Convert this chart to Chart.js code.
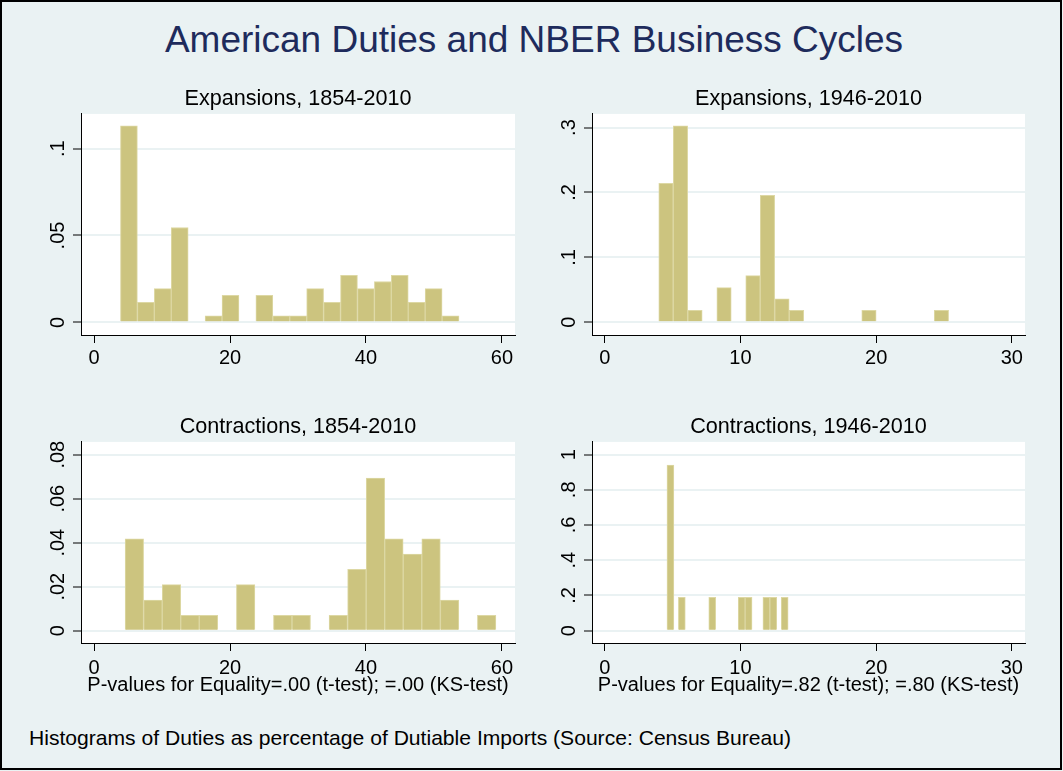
<!DOCTYPE html>
<html>
<head>
<meta charset="utf-8">
<title>American Duties and NBER Business Cycles</title>
<script src="https://cdn.jsdelivr.net/npm/chart.js@4.4.1/dist/chart.umd.min.js"></script>
<style>
  html, body { margin: 0; padding: 0; background: #EAF2F3; }
  body { width: 1063px; height: 771px; position: relative; font-family: "Liberation Sans", Arial, sans-serif; }
  #frame { position: absolute; left: 0; top: 0; width: 1062px; height: 770px; box-sizing: border-box; border: 2px solid #000; }
  #mainTitle { position: absolute; left: 0; top: 21px; width: 1068px; text-align: center; font-size: 37px; line-height: 37px; color: #1e2b5c; white-space: nowrap; }
  #note { position: absolute; left: 29px; top: 725px; font-size: 21.1px; line-height: 25px; color: #000; white-space: nowrap; }
  canvas { position: absolute; }
</style>
</head>
<body>
<div id="frame"></div>
<div id="mainTitle">American Duties and NBER Business Cycles</div>
<canvas id="exp1854" width="510" height="289" style="left:20px;top:86px"></canvas>
<canvas id="exp1946" width="510" height="289" style="left:530px;top:86px"></canvas>
<canvas id="con1854" width="510" height="283" style="left:20px;top:414px"></canvas>
<canvas id="con1946" width="510" height="283" style="left:530px;top:414px"></canvas>
<div id="note">Histograms of Duties as percentage of Dutiable Imports (Source: Census Bureau)</div>

<script>
// Expansions, 1854-2010 : bin centres (duty %) and density
const exp1854Bins = [5.13, 7.62, 10.11, 12.60, 15.09, 17.58, 20.07, 22.56, 25.05, 27.54,
                     30.03, 32.52, 35.01, 37.50, 39.99, 42.48, 44.97, 47.46, 49.95, 52.44];
const exp1854Density = [0.1132, 0.0115, 0.0194, 0.0546, 0, 0.0038, 0.0156, 0, 0.0156, 0.0038,
                        0.0038, 0.0194, 0.0115, 0.0271, 0.0194, 0.0235, 0.0271, 0.0115, 0.0194, 0.0038];

// Expansions, 1946-2010
const exp1946Bins = [4.51, 5.58, 6.65, 7.72, 8.79, 9.85, 10.92, 11.99, 13.06, 14.13,
                     15.19, 16.26, 17.33, 18.40, 19.47, 20.54, 21.60, 22.67, 23.74, 24.81];
const exp1946Density = [0.214, 0.3025, 0.0185, 0, 0.0534, 0, 0.0719, 0.1957, 0.036, 0.0185,
                        0, 0, 0, 0, 0.0185, 0, 0, 0, 0, 0.0185];

// Contractions, 1854-2010
const con1854Bins = [5.93, 8.66, 11.39, 14.11, 16.84, 19.57, 22.30, 25.02, 27.75, 30.48,
                     33.20, 35.93, 38.66, 41.39, 44.11, 46.84, 49.57, 52.30, 55.02, 57.75];
const con1854Density = [0.0418, 0.0139, 0.0209, 0.0070, 0.0070, 0, 0.0209, 0, 0.0070, 0.0070,
                        0, 0.0070, 0.0279, 0.0694, 0.0418, 0.0348, 0.0418, 0.0139, 0, 0.0070];

// Contractions, 1946-2010
const con1946Bins = [4.84, 5.68, 7.92, 10.09, 10.60, 11.91, 12.42, 13.26];
const con1946Density = [0.94, 0.19, 0.19, 0.19, 0.19, 0.19, 0.19, 0.19];

// tick values and labels
const xTicksLong = [0, 20, 40, 60];
const xTicksShort = [0, 10, 20, 30];
const yTicksExp1854 = [0, 0.05, 0.1];
const yLabelsExp1854 = ['0', '.05', '.1'];
const yTicksExp1946 = [0, 0.1, 0.2, 0.3];
const yLabelsExp1946 = ['0', '.1', '.2', '.3'];
const yTicksCon1854 = [0, 0.02, 0.04, 0.06, 0.08];
const yLabelsCon1854 = ['0', '.02', '.04', '.06', '.08'];
const yTicksCon1946 = [0, 0.2, 0.4, 0.6, 0.8, 1];
const yLabelsCon1946 = ['0', '.2', '.4', '.6', '.8', '1'];

const FONT = '"Liberation Sans", Arial, sans-serif';
Chart.defaults.font.family = FONT;
Chart.defaults.font.size = 20;
Chart.defaults.color = '#000';

// white plot region, like Stata's s2color scheme
const plotBg = {
    id: 'plotBg',
    beforeDraw(chart) {
        const a = chart.chartArea;
        const ctx = chart.ctx;
        ctx.save();
        ctx.fillStyle = '#ffffff';
        ctx.fillRect(a.left, a.top, a.right - a.left, a.bottom - a.top);
        ctx.restore();
    }
};

// vertical y tick labels (reading bottom to top)
const yLabels = {
    id: 'yLabels',
    afterDraw(chart, args, opts) {
        const scale = chart.scales.y;
        const ctx = chart.ctx;
        ctx.save();
        ctx.font = '20px ' + FONT;
        ctx.fillStyle = '#000';
        ctx.textAlign = 'center';
        ctx.textBaseline = 'middle';
        opts.values.forEach((v, i) => {
            ctx.save();
            ctx.translate(scale.right - 23, scale.getPixelForValue(v));
            ctx.rotate(-Math.PI / 2);
            ctx.fillText(opts.labels[i], 0, 0);
            ctx.restore();
        });
        ctx.restore();
    }
};

function makePanel(id, subtitle, bins, density, xTicks, yTicks, yTickLabels, xRange, yRange, bottomNote) {
    const points = bins.map((b, i) => ({ x: b, y: density[i] }));
    const bottom = bottomNote ? 54 : 40;
    return new Chart(document.getElementById(id), {
        type: 'bar',
        data: {
            datasets: [{
                data: points,
                backgroundColor: '#CCC47F',
                borderColor: '#DDD8A4',
                borderWidth: 1,
                barPercentage: 1,
                categoryPercentage: 1
            }]
        },
        plugins: [plotBg, yLabels],
        options: {
            responsive: false,
            animation: false,
            events: [],
            layout: { padding: { left: 0, right: 15, top: 0, bottom: 0 } },
            plugins: {
                legend: { display: false },
                tooltip: { enabled: false },
                title: {
                    display: true,
                    text: subtitle,
                    fullSize: false,
                    color: '#000',
                    font: { size: 21.6, weight: 'normal', lineHeight: 1.2 },
                    padding: { top: 0, bottom: 2 }
                },
                yLabels: { values: yTicks, labels: yTickLabels }
            },
            scales: {
                x: {
                    type: 'linear',
                    offset: false,
                    min: xRange[0],
                    max: xRange[1],
                    afterBuildTicks: s => { s.ticks = xTicks.map(v => ({ value: v })); },
                    afterFit: s => { s.height = bottom; },
                    ticks: { padding: bottomNote ? 5 : 3, maxRotation: 0, autoSkip: false },
                    grid: { offset: false, drawOnChartArea: false, tickLength: 8, tickColor: '#000', tickWidth: 1 },
                    border: { display: true, color: '#000', width: 1 },
                    title: {
                        display: !!bottomNote,
                        text: bottomNote || '',
                        color: '#000',
                        font: { size: 20 },
                        padding: { top: 0, bottom: 0 }
                    }
                },
                y: {
                    min: yRange[0],
                    max: yRange[1],
                    afterBuildTicks: s => { s.ticks = yTicks.map(v => ({ value: v })); },
                    afterFit: s => { s.width = id.indexOf('1854') >= 0 ? 61 : 62; },
                    ticks: { display: false },
                    grid: { color: '#EAF2F3', lineWidth: 2, tickLength: 8, tickColor: '#000', tickWidth: 1 },
                    border: { display: true, color: '#000', width: 1 }
                }
            }
        }
    });
}

document.addEventListener('DOMContentLoaded', function() {
    makePanel('exp1854', 'Expansions, 1854-2010', exp1854Bins, exp1854Density,
        xTicksLong, yTicksExp1854, yLabelsExp1854, [-1.92, 61.92], [-0.0073, 0.120], null);
    makePanel('exp1946', 'Expansions, 1946-2010', exp1946Bins, exp1946Density,
        xTicksShort, yTicksExp1946, yLabelsExp1946, [-0.94, 30.97], [-0.0196, 0.321], null);
    makePanel('con1854', 'Contractions, 1854-2010', con1854Bins, con1854Density,
        xTicksLong, yTicksCon1854, yLabelsCon1854, [-1.92, 61.92], [-0.0056, 0.0858],
        'P-values for Equality=.00 (t-test); =.00 (KS-test)');
    makePanel('con1946', 'Contractions, 1946-2010', con1946Bins, con1946Density,
        xTicksShort, yTicksCon1946, yLabelsCon1946, [-0.94, 30.97], [-0.07, 1.072],
        'P-values for Equality=.82 (t-test); =.80 (KS-test)');
});
</script>
</body>
</html>
